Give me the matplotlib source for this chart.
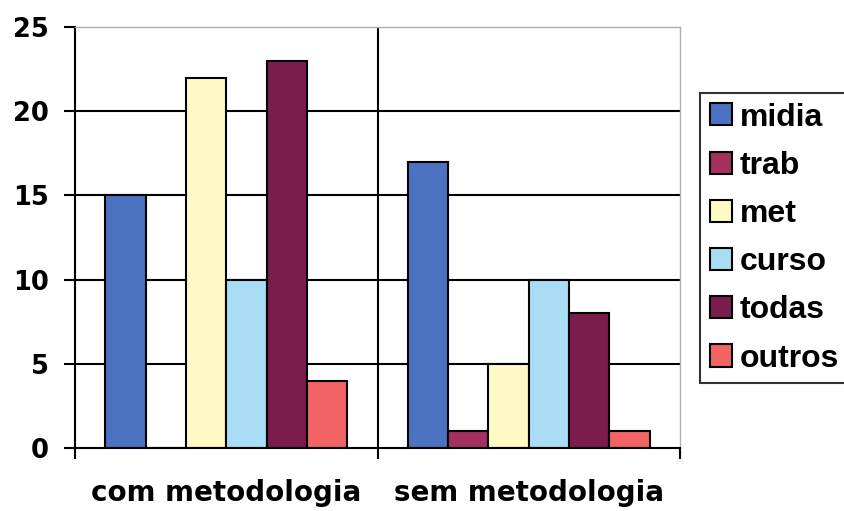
import matplotlib
matplotlib.use("Agg")
import matplotlib.pyplot as plt
import numpy as np

categories = ["com metodologia", "sem metodologia"]
series = ["midia", "trab", "met", "curso", "todas", "outros"]
midia = [15, 17]
trab = [0, 1]
met = [22, 5]
curso = [10, 10]
todas = [23, 8]
outros = [4, 1]
values = [midia, trab, met, curso, todas, outros]
colors = ["#4A72C0", "#A3305E", "#FFFAC4", "#A9DDF6", "#7A1D4D", "#F26464"]

plt.rcParams['font.family'] = ['Liberation Sans', 'DejaVu Sans']
plt.rcParams['font.weight'] = 'bold'

fig = plt.figure(figsize=(8.44, 5.11), dpi=100)
ax = fig.add_axes([75/844, 1-448/511, 605/844, 421/511])

x = np.arange(len(categories))
bw = 1/7.5
n = len(series)
for i, (name, vals, c) in enumerate(zip(series, values, colors)):
    offs = (i - (n-1)/2) * bw
    ax.bar(x + offs, vals, width=bw, color=c, edgecolor='black', linewidth=1.5, label=name, zorder=3)

ax.set_xlim(-0.5, 1.5)
ax.set_ylim(0, 25)
ax.set_yticks([0, 5, 10, 15, 20, 25])
ax.set_xticks([-0.5, 0.5, 1.5])
ax.set_xticklabels([])
ax.set_xticks(x, minor=True)
ax.set_xticklabels(categories, minor=True, fontsize=20, fontweight='bold', family='DejaVu Sans')
ax.tick_params(axis='x', which='minor', length=0, pad=22)
ax.tick_params(axis='x', which='major', length=8, width=1.5, direction='out')
ax.tick_params(axis='y', length=8, width=1.5, direction='out', labelsize=18.5, pad=11)
for lab in ax.get_yticklabels():
    lab.set_fontweight('bold')
    lab.set_family('DejaVu Sans')

for yv in [5, 10, 15, 20]:
    ax.axhline(yv, color='black', linewidth=1.5, zorder=1)
ax.axvline(0.5, color='black', linewidth=1.5, zorder=1)

ax.spines['left'].set_linewidth(1.5)
ax.spines['bottom'].set_linewidth(1.5)
ax.spines['bottom'].set_zorder(4)
ax.spines['top'].set_color('#b0b0b0')
ax.spines['right'].set_color('#b0b0b0')
ax.spines['top'].set_linewidth(1)
ax.spines['right'].set_linewidth(1)

leg = fig.legend(loc='upper left', bbox_to_anchor=(700/844, 1-93/511),
                 prop={'size': 23, 'weight': 'bold', 'family': 'Liberation Sans'},
                 frameon=True, fancybox=False,
                 edgecolor='black', handlelength=0.69, handleheight=0.69,
                 handletextpad=0.25, labelspacing=0.57, borderpad=0.3, borderaxespad=0)
leg.get_frame().set_linewidth(1.5)
for p in leg.get_patches():
    p.set_linewidth(1.5)

fig.savefig("out.png", dpi=100)
